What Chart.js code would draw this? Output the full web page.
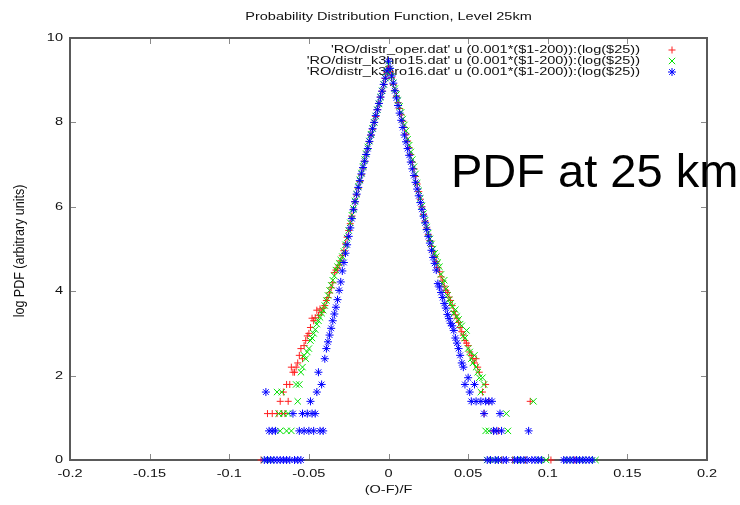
<!DOCTYPE html>
<html>
<head>
<meta charset="utf-8">
<script src="https://cdn.jsdelivr.net/npm/chart.js@4.4.1/dist/chart.umd.min.js"></script>
<style>
  html, body { margin: 0; padding: 0; background: #fff; }
  #wrap { width: 740px; height: 505px; }
</style>
</head>
<body>
<div id="wrap"><canvas id="pdfChart" width="740" height="505"></canvas></div>
<script>
// bins of (O-F)/F, step 0.001
const binX = [
  -0.060, -0.059, -0.058, -0.057, -0.056, -0.055, -0.054, -0.053, -0.052, -0.051,
  -0.050, -0.049, -0.048, -0.047, -0.046, -0.045, -0.044, -0.043, -0.042, -0.041,
  -0.040, -0.039, -0.038, -0.037, -0.036, -0.035, -0.034, -0.033, -0.032, -0.031,
  -0.030, -0.029, -0.028, -0.027, -0.026, -0.025, -0.024, -0.023, -0.022, -0.021,
  -0.020, -0.019, -0.018, -0.017, -0.016, -0.015, -0.014, -0.013, -0.012, -0.011,
  -0.010, -0.009, -0.008, -0.007, -0.006, -0.005, -0.004, -0.003, -0.002, -0.001,
  0.000,
  0.001, 0.002, 0.003, 0.004, 0.005, 0.006, 0.007, 0.008, 0.009, 0.010,
  0.011, 0.012, 0.013, 0.014, 0.015, 0.016, 0.017, 0.018, 0.019, 0.020,
  0.021, 0.022, 0.023, 0.024, 0.025, 0.026, 0.027, 0.028, 0.029, 0.030,
  0.031, 0.032, 0.033, 0.034, 0.035, 0.036, 0.037, 0.038, 0.039, 0.040,
  0.041, 0.042, 0.043, 0.044, 0.045, 0.046, 0.047, 0.048, 0.049, 0.050,
  0.051, 0.052, 0.053, 0.054, 0.055, 0.056, 0.057, 0.058, 0.059, 0.060
];

// log PDF per bin (null = no point in that bin)
const operLogPdf = [
  2.08, 2.08, 2.20, 2.30, 2.48, 2.64, 2.40, 2.71, 2.83, 2.94,
  3.00, 3.14, 3.36, 3.30, 3.37, 3.55, 3.43, 3.58, 3.50, 3.60,
  3.66, 3.78, 3.85, 3.96, 4.08, 4.20, 4.44, 4.50, 4.55, 4.62,
  4.72, 4.84, 4.96, 5.12, 5.28, 5.44, 5.60, 5.78, 5.94, 6.12,
  6.28, 6.44, 6.60, 6.76, 6.92, 7.08, 7.24, 7.38, 7.54, 7.70,
  7.84, 8.00, 8.14, 8.30, 8.45, 8.60, 8.74, 8.90, 9.04, 9.18,
  9.32,
  9.20, 9.06, 8.90, 8.76, 8.62, 8.47, 8.33, 8.18, 8.03, 7.88,
  7.72, 7.56, 7.40, 7.24, 7.06, 6.90, 6.72, 6.54, 6.36, 6.18,
  6.00, 5.82, 5.66, 5.50, 5.34, 5.20, 5.06, 4.94, 4.82, 4.70,
  4.56, 4.46, 4.34, 4.24, 4.12, 4.02, 3.97, 3.86, 3.78, 3.66,
  3.52, 3.44, 3.36, 3.26, 3.14, 3.04, 2.96, 2.83, 2.77, 2.71,
  2.56, 2.48, 2.40, 2.30, 2.40, 2.20, 2.08, null, null, null
];
const k15LogPdf = [
  null, null, null, null, null, 2.08, 2.20, 2.48, 2.40, 2.56,
  2.64, 2.83, 2.89, 3.00, 3.09, 3.22, 3.30, 3.38, 3.48, 3.55,
  3.66, 3.78, 3.90, 4.02, 4.14, 4.26, 4.36, 4.50, 4.58, 4.66,
  4.74, 4.82, 4.94, 5.10, 5.26, 5.44, 5.62, 5.80, 5.96, 6.14,
  6.30, 6.48, 6.64, 6.80, 6.96, 7.12, 7.26, 7.42, 7.56, 7.72,
  7.86, 8.00, 8.15, 8.30, 8.44, 8.60, 8.75, 8.90, 9.05, 9.20,
  9.38,
  9.22, 9.08, 8.94, 8.80, 8.66, 8.52, 8.38, 8.24, 8.08, 7.94,
  7.80, 7.60, 7.46, 7.30, 7.12, 6.95, 6.78, 6.56, 6.38, 6.20,
  6.02, 5.84, 5.68, 5.52, 5.38, 5.24, 5.12, 5.00, 4.90, 4.82,
  4.68, 4.58, 4.40, 4.18, 4.26, 4.05, 3.90, 3.80, 3.71, 3.64,
  3.48, 3.56, 3.40, 3.33, 3.22, 3.18, 2.94, 2.89, 3.07, 2.64,
  2.56, 2.40, 2.30, 2.48, 2.20, 2.08, 1.95, 1.61, 1.95, 1.79
];
const k16LogPdf = [
  null, null, null, null, null, null, null, null, null, null,
  null, null, null, null, null, null, null, null, null, null,
  2.40, 2.64, 2.80, 2.96, 3.12, 3.30, 3.46, 3.62, 3.80, 4.02,
  4.22, 4.48, 4.68, 4.90, 5.10, 5.30, 5.50, 5.72, 5.93, 6.12,
  6.30, 6.46, 6.62, 6.78, 6.93, 7.08, 7.24, 7.38, 7.55, 7.70,
  7.85, 8.00, 8.16, 8.30, 8.45, 8.60, 8.74, 8.90, 9.05, 9.22,
  9.45,
  9.28, 9.10, 8.93, 8.75, 8.58, 8.40, 8.22, 8.05, 7.88, 7.70,
  7.54, 7.38, 7.22, 7.06, 6.90, 6.74, 6.58, 6.42, 6.26, 6.10,
  5.94, 5.78, 5.62, 5.46, 5.30, 5.14, 4.97, 4.80, 4.66, 4.50,
  4.18, 4.10, 3.97, 3.85, 3.71, 3.60, 3.45, 3.35, 3.24, 3.18,
  3.07, 2.89, 2.77, 2.64, 2.48, 2.30, 2.20, 1.79, null, 1.95,
  1.61, 1.39, null, 1.79, 1.39, null, null, 1.39, null, 1.10
];

// sparse bins in the wings: [x, log PDF]
const operTail = [
  [-0.080, 0], [-0.076, 1.10], [-0.073, 1.10], [-0.070, 1.10], [-0.068, 1.39],
  [-0.067, 1.10], [-0.066, 1.61], [-0.065, 1.10], [-0.064, 1.79], [-0.063, 1.39],
  [-0.062, 1.79], [-0.061, 2.20],
  [0.059, 1.61], [0.060, 1.10], [0.061, 1.79], [0.063, 1.39], [0.064, 0],
  [0.066, 0.69], [0.069, 0.69], [0.071, 0], [0.078, 0], [0.086, 0],
  [0.089, 1.39], [0.102, 0], [0.117, 0]
];
const k15Tail = [
  [-0.078, 0], [-0.074, 0], [-0.070, 1.61], [-0.069, 1.10], [-0.068, 0.69],
  [-0.067, 1.61], [-0.066, 1.10], [-0.064, 0.69], [-0.063, 1.10], [-0.061, 0.69],
  [-0.058, 1.79], [-0.057, 1.39], [-0.056, 1.79],
  [0.061, 0.69], [0.062, 0], [0.063, 0.69], [0.066, 0], [0.069, 0],
  [0.074, 1.10], [0.075, 0.69], [0.080, 0], [0.084, 0], [0.091, 1.39],
  [0.095, 0], [0.099, 0], [0.113, 0], [0.121, 0], [0.126, 0], [0.130, 0]
];
const k16Tail = [
  [-0.078, 0], [-0.077, 1.61], [-0.076, 0], [-0.075, 0.69], [-0.074, 0],
  [-0.073, 0.69], [-0.072, 0], [-0.071, 0.69], [-0.070, 0], [-0.068, 0],
  [-0.066, 0], [-0.064, 0], [-0.062, 0], [-0.060, 1.10], [-0.059, 0],
  [-0.057, 0], [-0.056, 0.69], [-0.055, 0], [-0.054, 1.10], [-0.053, 0.69],
  [-0.051, 1.10], [-0.050, 0.69], [-0.049, 1.39], [-0.048, 1.10], [-0.047, 0.69],
  [-0.046, 1.10], [-0.045, 1.61], [-0.044, 2.08], [-0.043, 0.69], [-0.042, 1.79],
  [-0.041, 0.69],
  [0.061, 1.39], [0.062, 0], [0.063, 1.39], [0.064, 0], [0.065, 1.39],
  [0.066, 0.69], [0.067, 0], [0.068, 0.69], [0.069, 0], [0.070, 1.10],
  [0.071, 0.69], [0.072, 0], [0.074, 0], [0.079, 0], [0.081, 0],
  [0.083, 0], [0.085, 0], [0.087, 0], [0.088, 0.69], [0.090, 0],
  [0.092, 0], [0.094, 0], [0.096, 0], [0.110, 0], [0.112, 0],
  [0.114, 0], [0.116, 0], [0.118, 0], [0.120, 0], [0.122, 0],
  [0.124, 0], [0.126, 0], [0.128, 0]
];

const seriesNames = [
  "'RO/distr_oper.dat' u (0.001*($1-200)):(log($25))",
  "'RO/distr_k3hro15.dat' u (0.001*($1-200)):(log($25))",
  "'RO/distr_k3hro16.dat' u (0.001*($1-200)):(log($25))"
];
const xTickValues = [-0.2, -0.15, -0.1, -0.05, 0, 0.05, 0.1, 0.15, 0.2];
const xTickLabels = ['-0.2', '-0.15', '-0.1', '-0.05', '0', '0.05', '0.1', '0.15', '0.2'];
const yTickValues = [0, 2, 4, 6, 8, 10];
const yTickLabels = ['0', '2', '4', '6', '8', '10'];

const chartTitle = 'Probability Distribution Function, Level 25km';
const xTitle = '(O-F)/F';
const yTitle = 'log PDF (arbitrary units)';
const noteText = 'PDF at 25 km';

function toPoints(core, tail) {
    const pts = [];
    binX.forEach((x, i) => {
        if (core[i] !== null) pts.push({ x: x, y: core[i] });
    });
    tail.forEach(p => pts.push({ x: p[0], y: p[1] }));
    return pts;
}

// gnuplot text was stretched sideways in the original picture
const TXT_FONT = '11px "Liberation Sans", Arial, sans-serif';
const TXT_SX = 1.32;
function wideText(ctx, text, x, y, align) {
    ctx.save();
    ctx.translate(x, y);
    ctx.scale(TXT_SX, 1);
    ctx.textAlign = align;
    ctx.fillText(text, 0, 0);
    ctx.restore();
}

const styles = [
    { color: '#ff2020', pointStyle: 'cross', radius: 3.5 },
    { color: '#00e000', pointStyle: 'crossRot', radius: 4.5 },
    { color: '#0000ff', pointStyle: 'star', radius: 4 }
];

const gnuplotLook = {
    id: 'gnuplotLook',
    beforeDatasetsDraw(chart) {
        const { ctx, chartArea: a, scales: { x, y } } = chart;
        ctx.save();

        // inward tick marks on all four sides
        ctx.strokeStyle = '#8a8a8a';
        ctx.lineWidth = 1;
        ctx.beginPath();
        xTickValues.forEach(v => {
            const px = Math.round(x.getPixelForValue(v)) + 0.5;
            ctx.moveTo(px, a.bottom); ctx.lineTo(px, a.bottom - 6);
            ctx.moveTo(px, a.top); ctx.lineTo(px, a.top + 6);
        });
        yTickValues.forEach(v => {
            const py = Math.round(y.getPixelForValue(v)) + 0.5;
            ctx.moveTo(a.left, py); ctx.lineTo(a.left + 6, py);
            ctx.moveTo(a.right, py); ctx.lineTo(a.right - 6, py);
        });
        ctx.stroke();

        // frame
        ctx.strokeStyle = '#5a5a5a';
        ctx.lineWidth = 2;
        ctx.strokeRect(a.left, a.top, a.right - a.left, a.bottom - a.top);

        ctx.fillStyle = '#111';
        ctx.font = TXT_FONT;
        ctx.textBaseline = 'middle';

        // tick labels
        xTickValues.forEach((v, i) => {
            wideText(ctx, xTickLabels[i], x.getPixelForValue(v), a.bottom + 14, 'center');
        });
        yTickValues.forEach((v, i) => {
            wideText(ctx, yTickLabels[i], a.left - 7, y.getPixelForValue(v), 'right');
        });

        // titles
        wideText(ctx, chartTitle, (a.left + a.right) / 2, 17, 'center');
        wideText(ctx, xTitle, (a.left + a.right) / 2, 490, 'center');
        ctx.save();
        ctx.font = '12.5px "Liberation Sans", Arial, sans-serif';
        ctx.translate(20, (a.top + a.bottom) / 2 + 2);
        ctx.rotate(-Math.PI / 2);
        ctx.scale(1, 1.2);
        ctx.textAlign = 'center';
        ctx.fillText(yTitle, 0, 0);
        ctx.restore();

        // key, text right-justified with sample to the right
        seriesNames.forEach((name, i) => {
            const ly = 50 + i * 11;
            ctx.fillStyle = '#111';
            wideText(ctx, name, 640, ly, 'right');
            ctx.strokeStyle = styles[i].color;
            ctx.fillStyle = styles[i].color;
            ctx.lineWidth = 1;
            Chart.helpers.drawPoint(ctx, {
                pointStyle: styles[i].pointStyle,
                radius: styles[i].radius,
                rotation: 0,
                borderWidth: 1
            }, 672, ly);
        });
        ctx.restore();
    },
    afterDraw(chart) {
        const { ctx } = chart;
        ctx.save();
        ctx.fillStyle = '#000';
        ctx.font = '47px "Liberation Sans", Arial, sans-serif';
        ctx.textAlign = 'left';
        ctx.textBaseline = 'alphabetic';
        ctx.fillText(noteText, 451, 187);
        ctx.restore();
    }
};

const dataSeries = [
    toPoints(operLogPdf, operTail),
    toPoints(k15LogPdf, k15Tail),
    toPoints(k16LogPdf, k16Tail)
];

const ctx = document.getElementById('pdfChart').getContext('2d');
new Chart(ctx, {
    type: 'scatter',
    data: {
        datasets: dataSeries.map((pts, i) => ({
            label: seriesNames[i],
            data: pts,
            showLine: false,
            pointStyle: styles[i].pointStyle,
            pointRadius: styles[i].radius,
            pointBorderWidth: 1,
            borderColor: styles[i].color,
            backgroundColor: styles[i].color,
            order: 2 - i, // blue drawn last, like gnuplot
            clip: false
        }))
    },
    plugins: [gnuplotLook],
    options: {
        responsive: false,
        devicePixelRatio: 1,
        animation: false,
        events: [],
        layout: { padding: { left: 0, right: 33, top: 38, bottom: 0 } },
        plugins: {
            legend: { display: false },
            title: { display: false },
            tooltip: { enabled: false }
        },
        scales: {
            x: {
                type: 'linear',
                min: -0.2,
                max: 0.2,
                grid: { display: false, drawTicks: false },
                border: { display: false },
                ticks: { display: false },
                afterBuildTicks: s => { s.ticks = xTickValues.map(v => ({ value: v })); },
                afterFit: s => { s.height = 45; }
            },
            y: {
                min: 0,
                max: 10,
                grid: { display: false, drawTicks: false },
                border: { display: false },
                ticks: { display: false },
                afterBuildTicks: s => { s.ticks = yTickValues.map(v => ({ value: v })); },
                afterFit: s => { s.width = 70; }
            }
        }
    }
});
</script>
</body>
</html>
